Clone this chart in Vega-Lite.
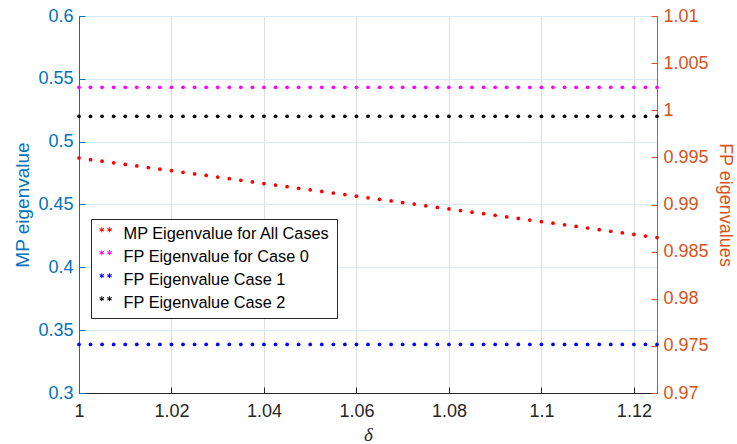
{
  "$schema": "https://vega.github.io/schema/vega-lite/v6.json",
  "width": 578,
  "height": 377,
  "autosize": {"type": "none"},
  "padding": {"left": 79, "top": 16, "right": 80, "bottom": 51},
  "background": "white",
  "config": {
    "view": {"stroke": "#262626", "strokeWidth": 1},
    "font": "Liberation Sans"
  },
  "data": {
    "values": [
      {"d": 1, "mp": 0.4870, "fp0": 1.00243, "fp1": 0.97515, "fp2": 0.99936},
      {"d": 1.0025, "mp": 0.4857, "fp0": 1.00243, "fp1": 0.97515, "fp2": 0.99936},
      {"d": 1.005, "mp": 0.4845, "fp0": 1.00243, "fp1": 0.97515, "fp2": 0.99936},
      {"d": 1.0075, "mp": 0.4832, "fp0": 1.00243, "fp1": 0.97515, "fp2": 0.99936},
      {"d": 1.01, "mp": 0.4819, "fp0": 1.00243, "fp1": 0.97515, "fp2": 0.99936},
      {"d": 1.0125, "mp": 0.4807, "fp0": 1.00243, "fp1": 0.97515, "fp2": 0.99936},
      {"d": 1.015, "mp": 0.4794, "fp0": 1.00243, "fp1": 0.97515, "fp2": 0.99936},
      {"d": 1.0175, "mp": 0.4781, "fp0": 1.00243, "fp1": 0.97515, "fp2": 0.99936},
      {"d": 1.02, "mp": 0.4769, "fp0": 1.00243, "fp1": 0.97515, "fp2": 0.99936},
      {"d": 1.0225, "mp": 0.4756, "fp0": 1.00243, "fp1": 0.97515, "fp2": 0.99936},
      {"d": 1.025, "mp": 0.4743, "fp0": 1.00243, "fp1": 0.97515, "fp2": 0.99936},
      {"d": 1.0275, "mp": 0.4731, "fp0": 1.00243, "fp1": 0.97515, "fp2": 0.99936},
      {"d": 1.03, "mp": 0.4718, "fp0": 1.00243, "fp1": 0.97515, "fp2": 0.99936},
      {"d": 1.0325, "mp": 0.4705, "fp0": 1.00243, "fp1": 0.97515, "fp2": 0.99936},
      {"d": 1.035, "mp": 0.4693, "fp0": 1.00243, "fp1": 0.97515, "fp2": 0.99936},
      {"d": 1.0375, "mp": 0.4680, "fp0": 1.00243, "fp1": 0.97515, "fp2": 0.99936},
      {"d": 1.04, "mp": 0.4667, "fp0": 1.00243, "fp1": 0.97515, "fp2": 0.99936},
      {"d": 1.0425, "mp": 0.4655, "fp0": 1.00243, "fp1": 0.97515, "fp2": 0.99936},
      {"d": 1.045, "mp": 0.4642, "fp0": 1.00243, "fp1": 0.97515, "fp2": 0.99936},
      {"d": 1.0475, "mp": 0.4629, "fp0": 1.00243, "fp1": 0.97515, "fp2": 0.99936},
      {"d": 1.05, "mp": 0.4617, "fp0": 1.00243, "fp1": 0.97515, "fp2": 0.99936},
      {"d": 1.0525, "mp": 0.4604, "fp0": 1.00243, "fp1": 0.97515, "fp2": 0.99936},
      {"d": 1.055, "mp": 0.4591, "fp0": 1.00243, "fp1": 0.97515, "fp2": 0.99936},
      {"d": 1.0575, "mp": 0.4579, "fp0": 1.00243, "fp1": 0.97515, "fp2": 0.99936},
      {"d": 1.06, "mp": 0.4566, "fp0": 1.00243, "fp1": 0.97515, "fp2": 0.99936},
      {"d": 1.0625, "mp": 0.4553, "fp0": 1.00243, "fp1": 0.97515, "fp2": 0.99936},
      {"d": 1.065, "mp": 0.4541, "fp0": 1.00243, "fp1": 0.97515, "fp2": 0.99936},
      {"d": 1.0675, "mp": 0.4528, "fp0": 1.00243, "fp1": 0.97515, "fp2": 0.99936},
      {"d": 1.07, "mp": 0.4515, "fp0": 1.00243, "fp1": 0.97515, "fp2": 0.99936},
      {"d": 1.0725, "mp": 0.4503, "fp0": 1.00243, "fp1": 0.97515, "fp2": 0.99936},
      {"d": 1.075, "mp": 0.4490, "fp0": 1.00243, "fp1": 0.97515, "fp2": 0.99936},
      {"d": 1.0775, "mp": 0.4477, "fp0": 1.00243, "fp1": 0.97515, "fp2": 0.99936},
      {"d": 1.08, "mp": 0.4465, "fp0": 1.00243, "fp1": 0.97515, "fp2": 0.99936},
      {"d": 1.0825, "mp": 0.4452, "fp0": 1.00243, "fp1": 0.97515, "fp2": 0.99936},
      {"d": 1.085, "mp": 0.4439, "fp0": 1.00243, "fp1": 0.97515, "fp2": 0.99936},
      {"d": 1.0875, "mp": 0.4427, "fp0": 1.00243, "fp1": 0.97515, "fp2": 0.99936},
      {"d": 1.09, "mp": 0.4414, "fp0": 1.00243, "fp1": 0.97515, "fp2": 0.99936},
      {"d": 1.0925, "mp": 0.4401, "fp0": 1.00243, "fp1": 0.97515, "fp2": 0.99936},
      {"d": 1.095, "mp": 0.4389, "fp0": 1.00243, "fp1": 0.97515, "fp2": 0.99936},
      {"d": 1.0975, "mp": 0.4376, "fp0": 1.00243, "fp1": 0.97515, "fp2": 0.99936},
      {"d": 1.1, "mp": 0.4363, "fp0": 1.00243, "fp1": 0.97515, "fp2": 0.99936},
      {"d": 1.1025, "mp": 0.4351, "fp0": 1.00243, "fp1": 0.97515, "fp2": 0.99936},
      {"d": 1.105, "mp": 0.4338, "fp0": 1.00243, "fp1": 0.97515, "fp2": 0.99936},
      {"d": 1.1075, "mp": 0.4325, "fp0": 1.00243, "fp1": 0.97515, "fp2": 0.99936},
      {"d": 1.11, "mp": 0.4313, "fp0": 1.00243, "fp1": 0.97515, "fp2": 0.99936},
      {"d": 1.1125, "mp": 0.4300, "fp0": 1.00243, "fp1": 0.97515, "fp2": 0.99936},
      {"d": 1.115, "mp": 0.4287, "fp0": 1.00243, "fp1": 0.97515, "fp2": 0.99936},
      {"d": 1.1175, "mp": 0.4275, "fp0": 1.00243, "fp1": 0.97515, "fp2": 0.99936},
      {"d": 1.12, "mp": 0.4262, "fp0": 1.00243, "fp1": 0.97515, "fp2": 0.99936},
      {"d": 1.1225, "mp": 0.4249, "fp0": 1.00243, "fp1": 0.97515, "fp2": 0.99936},
      {"d": 1.125, "mp": 0.4237, "fp0": 1.00243, "fp1": 0.97515, "fp2": 0.99936}
    ]
  },
  "encoding": {
    "x": {
      "field": "d",
      "type": "quantitative",
      "scale": {"domain": [1, 1.125], "nice": false, "zero": false},
      "axis": {
        "values": [1, 1.02, 1.04, 1.06, 1.08, 1.1, 1.12],
        "format": "~g",
        "title": "δ",
        "titleFont": "Liberation Serif",
        "titleFontStyle": "italic",
        "titleFontWeight": "normal",
        "titleFontSize": 19,
        "titleColor": "#262626",
        "titleBaseline": "alphabetic",
        "titleY": 47.5,
        "labelFont": "Liberation Sans",
        "labelFontSize": 18,
        "labelColor": "#262626",
        "labelPadding": 15,
        "labelFlush": false,
        "tickSize": -6,
        "tickColor": "#262626",
        "domainColor": "#262626",
        "grid": true,
        "gridColor": "#dedede",
        "gridWidth": 1
      }
    }
  },
  "layer": [
    {
      "transform": [{"fold": ["mp"], "as": ["s", "v"]}],
      "mark": {"type": "point", "filled": true, "size": 14, "opacity": 1},
      "encoding": {
        "y": {
          "field": "v",
          "type": "quantitative",
          "scale": {"domain": [0.3, 0.6], "nice": false, "zero": false},
          "axis": {
            "orient": "left",
            "values": [0.3, 0.35, 0.4, 0.45, 0.5, 0.55, 0.6],
            "format": "~g",
            "title": "MP eigenvalue",
            "titleFont": "Liberation Sans",
            "titleFontWeight": "normal",
            "titleFontSize": 19,
            "titleColor": "#0072BD",
            "titlePadding": 5,
            "labelFont": "Liberation Sans",
            "labelFontSize": 18,
            "labelColor": "#0072BD",
            "labelPadding": 12,
            "labelFlush": false,
            "tickSize": -6,
            "tickColor": "#0072BD",
            "domainColor": "#0072BD",
            "grid": true,
            "gridColor": "#d9eaf5",
            "gridWidth": 1
          }
        },
        "color": {
          "field": "s",
          "type": "nominal",
          "scale": {"domain": ["mp", "fp0", "fp1", "fp2"], "range": ["#ff0000", "#ff00ff", "#0000ff", "#000000"]},
          "legend": {
            "title": null,
            "orient": "none",
            "legendX": 12,
            "legendY": 203,
            "direction": "vertical",
            "symbolType": "M-0.62,-0.91L-0.48,-0.91L-0.48,-0.19L-0.62,-0.19ZM-0.827,-0.791L-0.203,-0.431L-0.273,-0.309L-0.897,-0.669ZM-0.897,-0.431L-0.273,-0.791L-0.203,-0.669L-0.827,-0.309ZM0.48,-0.91L0.62,-0.91L0.62,-0.19L0.48,-0.19ZM0.273,-0.791L0.897,-0.431L0.827,-0.309L0.203,-0.669ZM0.203,-0.431L0.827,-0.791L0.897,-0.669L0.273,-0.309Z",
            "symbolSize": 196,
            "symbolStrokeWidth": 0,
            "labelFont": "Liberation Sans",
            "labelFontSize": 16.3,
            "labelColor": "#000000",
            "labelOffset": 9.8,
            "labelLimit": 400,
            "rowPadding": 6,
            "padding": 6.5,
            "strokeColor": "#262626",
            "fillColor": "white",
            "cornerRadius": 0,
            "labelExpr": "datum.value == 'mp' ? 'MP Eigenvalue for All Cases' : datum.value == 'fp0' ? 'FP Eigenvalue for Case 0' : datum.value == 'fp1' ? 'FP Eigenvalue Case 1' : 'FP Eigenvalue Case 2'"
          }
        }
      }
    },
    {
      "transform": [{"fold": ["fp0", "fp1", "fp2"], "as": ["s", "v"]}],
      "mark": {"type": "point", "filled": true, "size": 14, "opacity": 1},
      "encoding": {
        "y": {
          "field": "v",
          "type": "quantitative",
          "scale": {"domain": [0.97, 1.01], "nice": false, "zero": false},
          "axis": {
            "orient": "right",
            "values": [0.97, 0.975, 0.98, 0.985, 0.99, 0.995, 1, 1.005, 1.01],
            "format": "~g",
            "title": "FP eigenvalues",
            "titleFont": "Liberation Sans",
            "titleFontWeight": "normal",
            "titleFontSize": 18,
            "titleColor": "#D95319",
            "titlePadding": 7,
            "labelFont": "Liberation Sans",
            "labelFontSize": 18,
            "labelColor": "#D95319",
            "labelPadding": 12,
            "labelFlush": false,
            "tickSize": -6,
            "tickColor": "#D95319",
            "domainColor": "#D95319",
            "grid": false
          }
        },
        "color": {
          "field": "s",
          "type": "nominal",
          "scale": {"domain": ["mp", "fp0", "fp1", "fp2"], "range": ["#ff0000", "#ff00ff", "#0000ff", "#000000"]}
        }
      }
    }
  ],
  "resolve": {"scale": {"y": "independent"}}
}
